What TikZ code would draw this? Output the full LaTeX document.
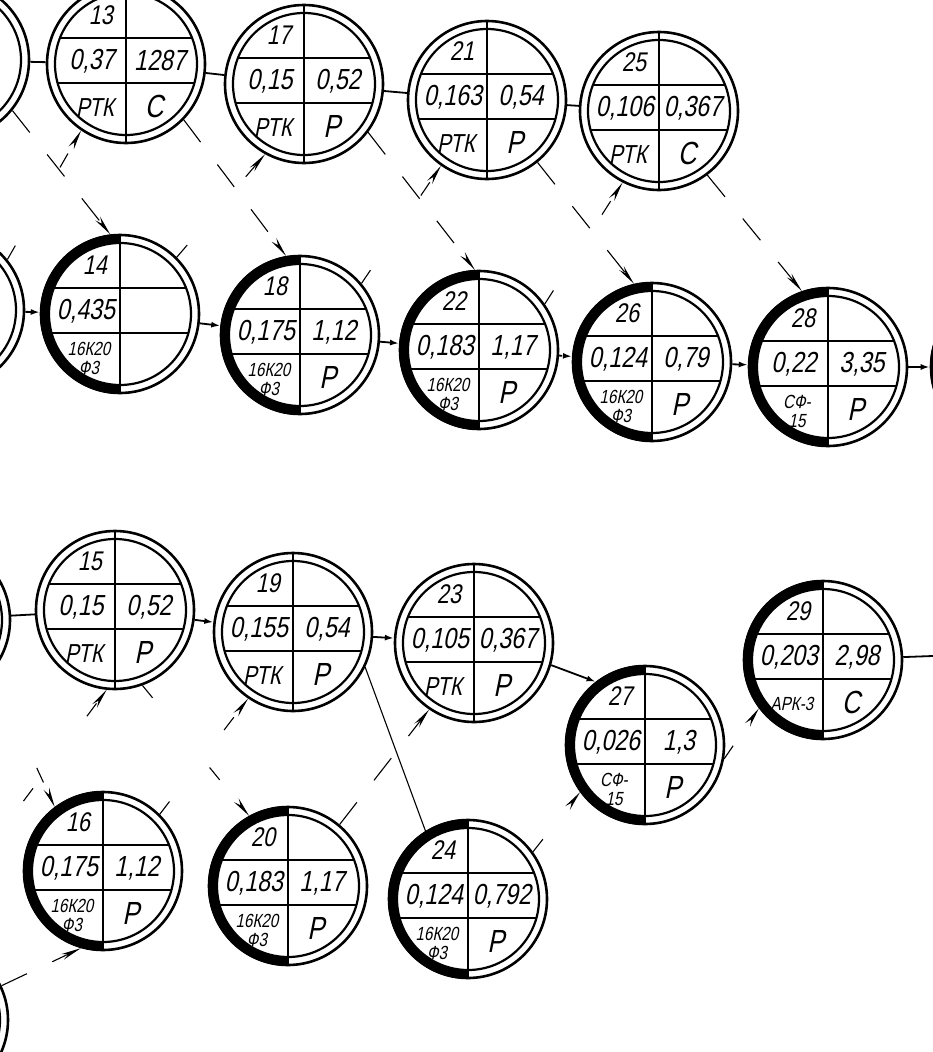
\documentclass[tikz,border=0pt]{standalone}
\usepackage{fontspec}
\newfontfamily\hand[FakeSlant=0.2,FakeStretch=0.8]{Liberation Sans}
\usetikzlibrary{arrows.meta}

% double ring of an event, left half filled with #3
\newcommand\ring[3]{%
  \node[event] (#1) at (#2) {};
  \begin{scope}[shift={(#2)}]
    \path[fill=#3] (0,80) arc[start angle=90,end angle=270,radius=80]
      -- (0,-71) arc[start angle=270,end angle=90,radius=71] -- cycle;
    \draw[inner] (0,0) circle (71);
  \end{scope}}

% event with its number, two times and two labels
\newcommand\evnode[8]{%
  \ring{#1}{#2}{#3}
  \begin{scope}[shift={(#2)}]
    \draw[grid] (-66,26) -- (66,26);
    \draw[grid] (-68,-19) -- (68,-19);
    \draw[grid] (0,79) -- (0,-79);
    \node[numtext] (#1-n) at (-25,49) {#4};
    \node[valtext] (#1-a) at (-34,3) {#5};
    \node[valtext] (#1-b) at (34,3) {#6};
    \node[labtext] (#1-c) at (-31,-44) {#7};
    \node[marktext] (#1-d) at (28,-42) {#8};
  \end{scope}}

% single line label, written larger
\newcommand\rtk{{\fontsize{26}{26}\selectfont РТК}}

\begin{document}
\begin{tikzpicture}[x=1pt,y=1pt,
  event/.style={circle, draw, line width=2.6pt, minimum size=158pt, inner sep=0pt},
  inner/.style={line width=2.2pt},
  grid/.style={line width=1.8pt},
  numtext/.style={font=\hand\fontsize{27}{27}\selectfont, inner sep=0pt},
  valtext/.style={font=\hand\fontsize{29}{29}\selectfont, inner sep=0pt},
  labtext/.style={font=\hand\fontsize{19}{19}\selectfont, inner sep=0pt, align=center},
  marktext/.style={font=\hand\fontsize{32}{32}\selectfont, inner sep=0pt},
  tie/.style={line width=1.8pt},
  link/.style={line width=1.8pt, -{Latex[length=9pt,width=6pt]}},
  dlink/.style={line width=1.1pt, dash pattern=on 28pt off 28pt, -{Stealth[length=20pt,width=6pt]}},
  flink/.style={line width=1.1pt, dash pattern=on 16pt off 90pt, -{Stealth[length=20pt,width=6pt]}},
  slink/.style={line width=1.1pt}]
\useasboundingbox (0,0) rectangle (933,-1052);
\clip (0,0) rectangle (933,-1052);

% events cut by the edge of the sheet
\ring{P1}{-50,-60}{none}
\ring{P2}{-55,-310}{black}
\ring{P3}{-69,-620}{none}
\ring{P5}{-71,-1020}{black}
\ring{PR2}{1010,-367}{black}
\coordinate (P4) at (-40,-886);
\coordinate (out29) at (960,-655);

% first row
\evnode{13}{126,-64}{none}{13}{0,37}{1287}{\rtk}{С}
\evnode{17}{304,-84}{none}{17}{0,15}{0,52}{\rtk}{Р}
\evnode{21}{487,-100}{none}{21}{0,163}{0,54}{\rtk}{Р}
\evnode{25}{659,-111}{none}{25}{0,106}{0,367}{\rtk}{С}

% second row
\evnode{14}{120,-314}{black}{14}{0,435}{}{16К20\\Ф3}{}
\evnode{18}{300,-335}{black}{18}{0,175}{1,12}{16К20\\Ф3}{Р}
\evnode{22}{479,-350}{black}{22}{0,183}{1,17}{16К20\\Ф3}{Р}
\evnode{26}{652,-362}{black}{26}{0,124}{0,79}{16К20\\Ф3}{Р}
\evnode{28}{828,-367}{black}{28}{0,22}{3,35}{СФ-\\15}{Р}

% third row
\evnode{15}{115,-610}{none}{15}{0,15}{0,52}{\rtk}{Р}
\evnode{19}{293,-632}{none}{19}{0,155}{0,54}{\rtk}{Р}
\evnode{23}{474,-643}{none}{23}{0,105}{0,367}{\rtk}{Р}
\evnode{27}{645,-745}{black}{27}{0,026}{1,3}{СФ-\\15}{Р}
\evnode{29}{823,-660}{black}{29}{0,203}{2,98}{АРК-3}{С}

% fourth row
\evnode{16}{103,-871}{black}{16}{0,175}{1,12}{16К20\\Ф3}{Р}
\evnode{20}{288,-886}{black}{20}{0,183}{1,17}{16К20\\Ф3}{Р}
\evnode{24}{468,-899}{black}{24}{0,124}{0,792}{16К20\\Ф3}{Р}

% chains along the rows
\draw[tie] (P1) -- (13);
\draw[tie] (13) -- (17);
\draw[tie] (17) -- (21);
\draw[tie] (21) -- (25);
\draw[link] (P2) -- (14);
\draw[link] (14) -- (18);
\draw[link] (18) -- (22);
\draw[link, densely dashed] (22) -- (26);
\draw[link] (26) -- (28);
\draw[link] (28) -- (PR2);
\draw[tie] (P3) -- (15);
\draw[link] (15) -- (19);
\draw[link] (19) -- (23);
\draw[link] (23.-16) -- (27.128);
\draw[link] (29) -- (out29);

% between first and second rows
\draw[dlink] (P1.-39) -- (14.97);
\draw[dlink] (13.-44) -- (18.100);
\draw[dlink] (17.-37) -- (22.93);
\draw[dlink] (21.-51) -- (26.103);
\draw[dlink] (25.-53) -- (28.109);
\draw[flink] (P2.39) -- (13.-124);
\draw[flink] (14.45) -- (17.-119);
\draw[flink] (18.40) -- (21.-125);
\draw[flink] (22.35) -- (25.-117);

% between third and fourth rows
\draw[flink] (P3.-40) -- (16.127);
\draw[flink] (P4) -- (15.-96);
\draw[flink] (15.-70) -- (20.119);
\draw[flink] (16.45) -- (19.-124);
\draw[slink] (19.-26) -- (24.122);
\draw[dlink] (20.50) -- (23.-124);
\draw[flink] (24.36) -- (27.-144);
\draw[flink] (27.-10) -- (29.-143);
\draw[dlink] (P5) -- (16.-106);
\end{tikzpicture}
\end{document}
